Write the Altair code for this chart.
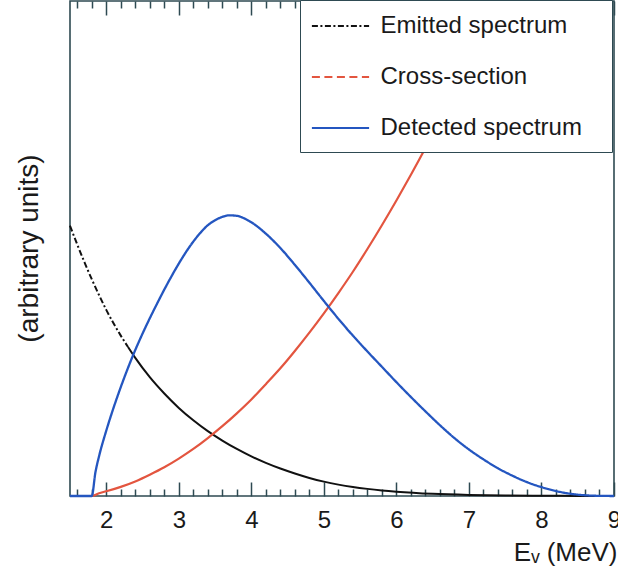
import altair as alt
import pandas as pd

FONT = "Liberation Sans"
TEXT = "#1a1a1a"
FRAME = "#2e4a52"

# ---- data ----
series_names = ["Emitted spectrum", "Cross-section", "Detected spectrum"]
series_colors = ["#111111", "#e3553f", "#2456c0"]
series_dash = [[6, 2.5, 2, 2.5], [8, 4.5], [1, 0]]

emitted_energy = [1.5, 1.6, 1.7, 1.8, 1.9, 2.0, 2.1, 2.2, 2.3, 2.4,
                  2.6, 2.8, 3.0, 3.2, 3.4, 3.6, 3.8, 4.0, 4.2, 4.4, 4.6, 4.8, 5.0,
                  5.2, 5.4, 5.6, 5.8, 6.0, 6.5, 7.0, 7.5, 8.0, 8.5, 9.0]
emitted_values = [54.6, 50.8, 47.2, 43.8, 40.6, 37.6, 34.9, 32.4, 30.1, 27.9,
                  24.0, 20.7, 17.8, 15.3, 13.1, 11.2, 9.5, 8.0, 6.7, 5.55, 4.55, 3.65, 2.9,
                  2.3, 1.82, 1.44, 1.13, 0.88, 0.45, 0.22, 0.1, 0.05, 0.02, 0.01]

cross_energy = [1.5, 1.8, 1.9, 2.0, 2.2, 2.4, 2.6, 2.8, 3.0, 3.2, 3.4, 3.6, 3.8, 4.0,
                4.2, 4.4, 4.6, 4.8, 5.0, 5.2, 5.4, 5.6, 5.8, 6.0, 6.2, 6.4, 6.6, 6.8,
                7.0, 7.2]
cross_values = [0.0, 0.0, 0.55, 0.95, 1.85, 2.95, 4.3, 5.8, 7.55, 9.5, 11.7, 14.1, 16.7, 19.5,
                22.6, 25.8, 29.3, 33.0, 36.9, 41.0, 45.3, 49.9, 54.7, 59.7, 64.9, 70.3,
                76.0, 81.8, 87.9, 94.2]

detected_energy = [1.5, 1.8, 1.85, 1.9, 2.0, 2.1, 2.2, 2.3, 2.4, 2.5, 2.6, 2.7, 2.8, 2.9,
                   3.0, 3.1, 3.2, 3.3, 3.4, 3.5, 3.6, 3.7, 3.8, 3.9,
                   4.0, 4.2, 4.4, 4.6, 4.8, 5.0, 5.2, 5.4, 5.6, 5.8, 6.0, 6.2, 6.4,
                   6.6, 6.8, 7.0, 7.2, 7.4, 7.6, 7.8, 8.0, 8.2, 8.4, 8.6, 8.8, 9.0]
detected_values = [0.0, 0.0, 4.75, 8.0, 13.2, 17.8, 22.0, 25.9, 29.5, 32.8, 35.9, 38.85, 41.7, 44.4,
                   46.95, 49.3, 51.4, 53.2, 54.7, 55.7, 56.4, 56.7, 56.6, 56.1,
                   55.3, 53.0, 50.1, 46.7, 43.1, 39.4, 35.8, 32.4, 29.2, 26.1, 23.0, 20.0, 17.1,
                   14.3, 11.7, 9.4, 7.4, 5.6, 4.1, 2.8, 1.8, 1.0, 0.45, 0.15, 0.03, 0.0]

x_label_ticks = [2, 3, 4, 5, 6, 7, 8, 9]
x_all_ticks = [1.6, 1.8, 2, 2.2, 2.4, 2.6, 2.8, 3, 3.2, 3.4, 3.6, 3.8, 4, 4.2, 4.4, 4.6,
               4.8, 5, 5.2, 5.4, 5.6, 5.8, 6, 6.2, 6.4, 6.6, 6.8, 7, 7.2, 7.4, 7.6, 7.8,
               8, 8.2, 8.4, 8.6, 8.8, 9]

em = pd.DataFrame({"E": emitted_energy, "v": emitted_values, "series": series_names[0]})
cs = pd.DataFrame({"E": cross_energy, "v": cross_values, "series": series_names[1]})
dt = pd.DataFrame({"E": detected_energy, "v": detected_values, "series": series_names[2]})

W, H = 544, 495

x_scale = alt.Scale(domain=[1.5, 9], nice=False, zero=False)
y_scale = alt.Scale(domain=[0, 100], nice=False)

tick_size = {"condition": {"test": "abs(datum.value - round(datum.value)) < 0.01", "value": 14},
             "value": 7}

ax_labels = alt.Axis(orient="bottom", values=x_label_ticks, ticks=False, domain=False, grid=False,
                     labelFont=FONT, labelFontSize=24, labelColor=TEXT, labelPadding=12,
                     labelFlush=False, labelOverlap=False,
                     title="Eᵥ (MeV)", titleFont=FONT, titleFontSize=26, titleFontWeight="normal",
                     titleColor=TEXT, titleAnchor="end", titleAlign="right",
                     titleBaseline="alphabetic", titleX=547, titleY=64)
ax_ticks_bottom = alt.Axis(orient="top", offset=-H, values=x_all_ticks, labels=False,
                           domain=False, grid=False, ticks=True, tickSize=tick_size,
                           tickColor=FRAME, tickWidth=1.5, title=None)
ax_ticks_top = alt.Axis(orient="bottom", offset=-H, values=x_all_ticks, labels=False,
                        domain=False, grid=False, ticks=True, tickSize=tick_size,
                        tickColor=FRAME, tickWidth=1.5, title=None)

y_axis = alt.Axis(labels=False, ticks=False, domain=False, grid=False,
                  title="(arbitrary units)", titleFont=FONT, titleFontSize=28,
                  titleFontWeight="normal", titleColor=TEXT, titleAngle=270,
                  titleAlign="center", titleBaseline="middle", titleX=-41, titleY=247)

legend = alt.Legend(title=None, orient="none", legendX=230, legendY=-1, direction="vertical",
                    symbolType="M-2.2,0H2.2", symbolSize=676, symbolStrokeWidth=2,
                    symbolOffset=14.5, labelFont=FONT, labelFontSize=24, labelColor=TEXT,
                    labelOffset=26, labelLimit=400,
                    labelExpr="datum.label + '\u2800'",
                    padding=12, rowPadding=25, strokeColor=FRAME, fillColor="white", zindex=1)

color = alt.Color("series:N", scale=alt.Scale(domain=series_names, range=series_colors),
                  legend=legend)
dash = alt.StrokeDash("series:N", scale=alt.Scale(domain=series_names, range=series_dash),
                      legend=legend)

y_enc = alt.Y("v:Q", scale=y_scale, axis=y_axis)

em_dash = alt.Chart(em).transform_filter("datum.E <= 2.3").mark_line(
    strokeWidth=2, interpolate="monotone").encode(
    x=alt.X("E:Q", scale=x_scale, axis=ax_labels), y=y_enc, color=color, strokeDash=dash)

em_solid = alt.Chart(em).transform_filter("datum.E >= 2.3").mark_line(
    strokeWidth=2, interpolate="monotone").encode(
    x=alt.X("E:Q", scale=x_scale, axis=ax_ticks_bottom), y=y_enc, color=color)

red = alt.Chart(cs).mark_line(strokeWidth=2.2, interpolate="monotone").encode(
    x=alt.X("E:Q", scale=x_scale, axis=ax_ticks_top), y=y_enc, color=color)

blue = alt.Chart(dt).mark_line(strokeWidth=2.3, interpolate="monotone").encode(
    x=alt.X("E:Q", scale=x_scale, axis=None), y=y_enc, color=color, strokeDash=dash)

chart = alt.layer(em_dash, em_solid, red, blue).resolve_axis(x="independent").properties(
    width=W, height=H,
    padding={"left": 70, "top": 1, "right": 4, "bottom": 81},
    autosize=alt.AutoSizeParams(type="none"),
).configure_view(stroke=FRAME, strokeWidth=1.6).configure_axis(grid=False)

chart.save("out.html", embed_options={"renderer": "svg", "actions": False})
